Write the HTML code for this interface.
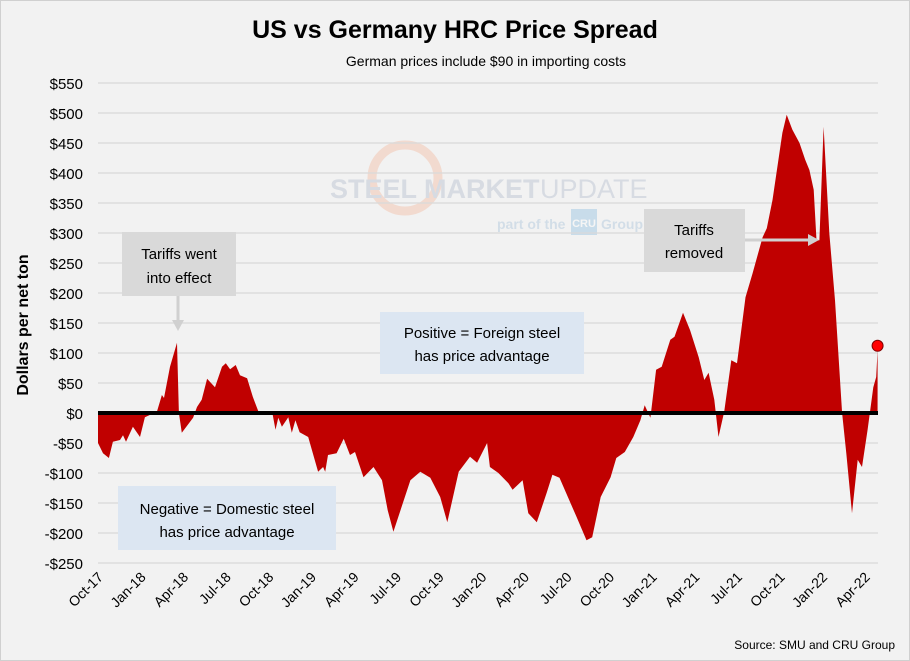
<!DOCTYPE html>
<html><head><meta charset="utf-8"><style>
body{margin:0;background:#fff}
svg{display:block;font-family:"Liberation Sans",sans-serif}
</style></head><body>
<svg id="chart" width="910" height="661" viewBox="0 0 910 661" xmlns="http://www.w3.org/2000/svg">
<rect x="0.5" y="0.5" width="909" height="660" fill="#f2f2f2" stroke="#d0d0d0"/>
<text x="455" y="38" font-size="25" font-weight="bold" text-anchor="middle" fill="#000">US vs Germany HRC Price Spread</text>
<text x="486" y="66" font-size="14" text-anchor="middle" fill="#000">German prices include $90 in importing costs</text>
<g opacity="0.3">
<circle cx="405" cy="178" r="33" fill="none" stroke="#f4a582" stroke-width="9"/>
<text x="330" y="198" font-size="27" font-weight="bold" fill="#9aa8c0">STEEL MARKET</text>
<text x="540" y="198" font-size="27" fill="#9aa8c0">UPDATE</text>
<text x="497" y="229" font-size="14" font-weight="bold" fill="#8ab0d0">part of the</text>
<rect x="571" y="209" width="26" height="26" fill="#6aaad8"/>
<text x="584" y="227" font-size="11" font-weight="bold" fill="#fff" text-anchor="middle">CRU</text>
<text x="601" y="229" font-size="14" font-weight="bold" fill="#8ab0d0">Group</text>
</g>
<g id="grid"></g>
<g id="area"></g>
<g id="axes"></g>
<text transform="translate(28,325) rotate(-90)" font-size="16" font-weight="bold" text-anchor="middle">Dollars per net ton</text>
<g>
<rect x="122" y="232" width="114" height="64" fill="#d9d9d9"/>
<text x="179" y="259" font-size="15" text-anchor="middle">Tariffs went</text>
<text x="179" y="283" font-size="15" text-anchor="middle">into effect</text>
<line x1="178" y1="296" x2="178" y2="322" stroke="#d0d0d0" stroke-width="3"/>
<polygon points="172,320 184,320 178,331" fill="#d0d0d0"/>
</g>
<g>
<rect x="380" y="312" width="204" height="62" fill="#dce6f2"/>
<text x="482" y="338" font-size="15" text-anchor="middle">Positive = Foreign steel</text>
<text x="482" y="361" font-size="15" text-anchor="middle">has price advantage</text>
</g>
<g>
<rect x="118" y="486" width="218" height="64" fill="#dce6f2"/>
<text x="227" y="514" font-size="15" text-anchor="middle">Negative = Domestic steel</text>
<text x="227" y="537" font-size="15" text-anchor="middle">has price advantage</text>
</g>
<g>
<rect x="644" y="209" width="101" height="63" fill="#d9d9d9"/>
<text x="694" y="235" font-size="15" text-anchor="middle">Tariffs</text>
<text x="694" y="258" font-size="15" text-anchor="middle">removed</text>
<line x1="745" y1="240" x2="810" y2="240" stroke="#d0d0d0" stroke-width="3"/>
<polygon points="808,234 808,246 819,240" fill="#d0d0d0"/>
</g>
<text x="895" y="649" font-size="12" text-anchor="end">Source: SMU and CRU Group</text>
<script>
const months=[0,0.35,0.77,1.05,1.55,1.76,1.97,2.46,2.96,3.3,4.15,4.5,4.65,5.07,5.56,5.7,5.9,6.7,6.97,7.3,7.68,8.24,8.73,9.0,9.3,9.7,10,10.5,10.9,11.3,12.3,12.5,12.7,12.95,13.4,13.65,13.9,14.2,14.8,15.5,15.85,16,16.2,16.8,17.3,17.75,18.1,18.7,19.4,20,20.4,20.8,21.3,22,22.7,23.4,24.1,24.6,25.4,26.2,26.7,27.4,27.6,28.2,28.9,29.2,29.9,30.3,30.9,31.6,32,32.5,33.7,34.4,34.8,35.4,36.1,36.5,37.1,37.7,38.2,38.5,38.9,39.3,39.7,40.3,40.6,41.2,41.7,42.3,42.7,43,43.4,43.7,44.1,44.6,45,45.6,46.1,46.8,47.1,47.5,48.2,48.5,48.9,49.4,49.8,50.1,50.4,50.6,50.8,51.1,51.5,51.9,52.4,52.7,53.1,53.5,53.8,54.2,54.6,54.8,54.9];
const spread=[-50,-67,-75,-48,-45,-37,-48,-23,-40,-7,2,30,25,77,117,0,-33,-8,10,22,57,43,77,83,73,80,63,58,27,2,-3,-28,-8,-23,-7,-33,-12,-32,-40,-98,-90,-98,-70,-67,-43,-70,-65,-107,-90,-112,-162,-198,-162,-112,-98,-108,-140,-182,-98,-73,-83,-50,-90,-100,-117,-128,-112,-167,-182,-133,-103,-108,-173,-212,-207,-140,-107,-75,-65,-40,-12,13,-8,72,77,122,127,167,138,93,55,67,22,-40,2,88,83,193,233,293,308,355,467,497,472,450,422,405,372,288,288,477,300,188,0,-67,-167,-78,-90,-28,43,60,105];
const yTicks=[550,500,450,400,350,300,250,200,150,100,50,0,-50,-100,-150,-200,-250];
const xTickLabels=["Oct-17","Jan-18","Apr-18","Jul-18","Oct-18","Jan-19","Apr-19","Jul-19","Oct-19","Jan-20","Apr-20","Jul-20","Oct-20","Jan-21","Apr-21","Jul-21","Oct-21","Jan-22","Apr-22"];
const xTickMonths=[0,3,6,9,12,15,18,21,24,27,30,33,36,39,42,45,48,51,54];
const latest=112;

const NS="http://www.w3.org/2000/svg";
const X0=98,X1=878;
function xs(m){return 98+m*14.2;}
function ys(v){return 413-v*0.6;}
function mk(tag,attrs,parent){const e=document.createElementNS(NS,tag);for(const k in attrs)e.setAttribute(k,attrs[k]);parent.appendChild(e);return e;}
const grid=document.getElementById('grid'),axes=document.getElementById('axes'),area=document.getElementById('area');
yTicks.forEach(v=>{
  const l=mk('line',{x1:X0,x2:X1,y1:ys(v),y2:ys(v),stroke:'#d9d9d9','stroke-width':1.3},grid);
  
  
  const t=mk('text',{x:83,y:ys(v)+6,'font-size':15,'text-anchor':'end',fill:'#000'},axes);
  t.textContent=(v<0?'-$':'$')+Math.abs(v);
  
  
});
let d='M'+xs(months[0])+','+ys(0);
months.forEach((m,i)=>{d+=' L'+xs(m).toFixed(1)+','+ys(spread[i]).toFixed(1);});
d+=' L'+xs(months[months.length-1])+','+ys(0)+' Z';
const p=mk('path',{d:d,fill:'#c00000'},area);


const z=mk('line',{x1:X0,x2:X1,y1:ys(0),y2:ys(0),stroke:'#000','stroke-width':4},axes);


xTickLabels.forEach((lab,i)=>{
  const x=xs(xTickMonths[i]);
  const t=mk('text',{x:x+6,y:578,'font-size':14,'text-anchor':'end',transform:'rotate(-45 '+(x+6)+' 578)'},axes);
  t.textContent=lab;
  
  
});
const c=mk('circle',{cx:xs(months[months.length-1]),cy:ys(latest),r:5.5,fill:'#ff0000',stroke:'#800000','stroke-width':1},axes);


</script>
</svg>
</body></html>
